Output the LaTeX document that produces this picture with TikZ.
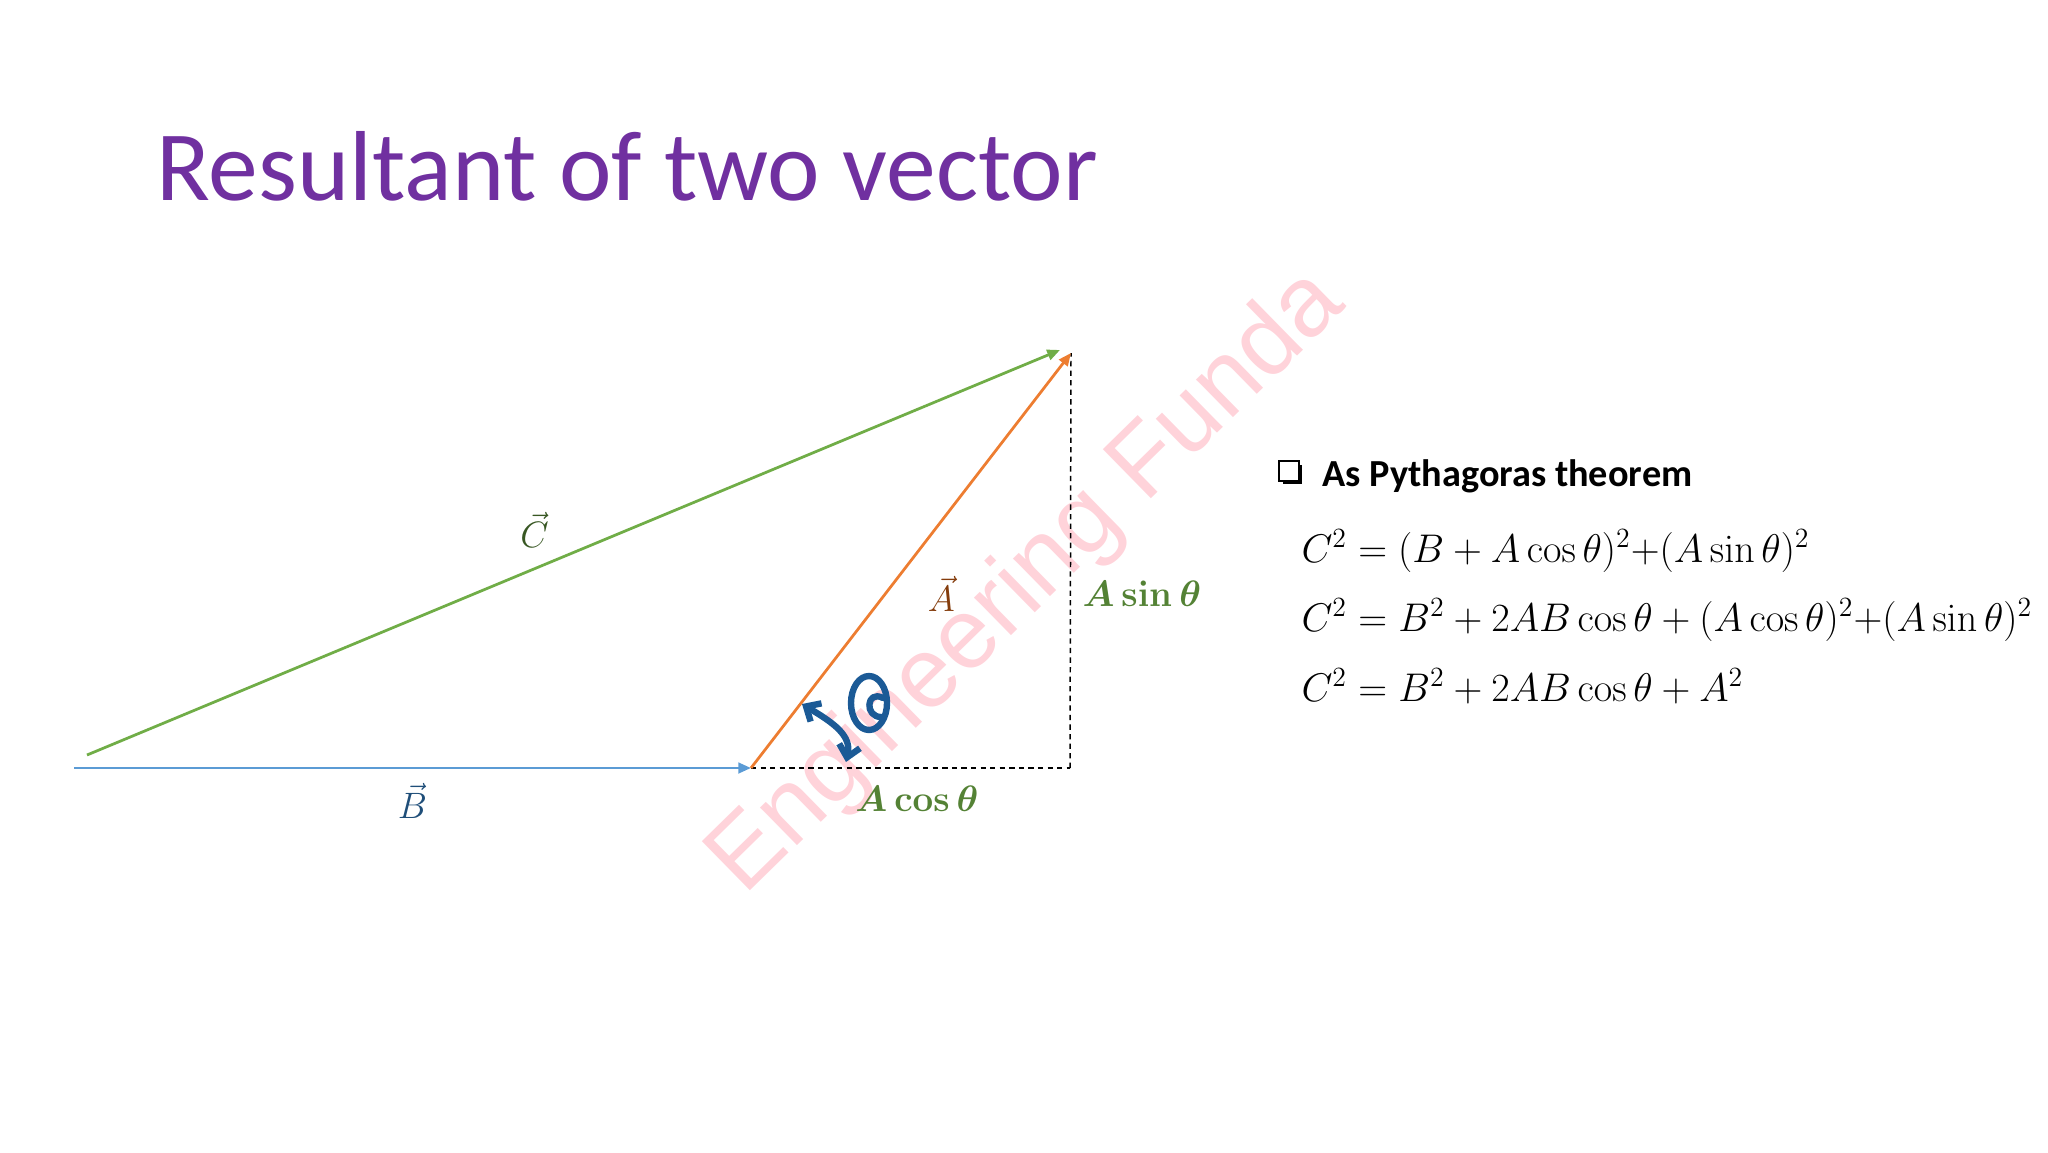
\documentclass[tikz,border=0pt]{standalone}
\usepackage[no-math]{fontspec}
\usepackage{amsmath}
\setmainfont{Carlito}
\newfontfamily\markfont{Liberation Sans}
\usetikzlibrary{arrows.meta,shadows}
\definecolor{titlepurple}{HTML}{7030A0}
\definecolor{vecblue}{HTML}{5B9BD5}
\definecolor{vecgreen}{HTML}{70AD47}
\definecolor{vecorange}{HTML}{ED7D31}
\definecolor{labblue}{HTML}{1F4E79}
\definecolor{labgreen}{HTML}{385723}
\definecolor{labbrown}{HTML}{843C0C}
\definecolor{compgreen}{HTML}{548235}
\definecolor{inkblue}{HTML}{1B5A96}
\definecolor{markpink}{HTML}{FFD3DA}
\newcommand{\eqtext}[1]{\scalebox{1.09}{$#1$}}
\begin{document}
\begin{tikzpicture}[x=0.16536mm, y=-0.16536mm,
	vecline/.style={line width=1.3pt, -{Triangle[length=6pt, width=5pt]}},
	veclabel/.style={font=\fontsize{18}{22}\selectfont},
	compo/.style={text=compgreen, font=\fontsize{18}{22}\selectfont},
	eqline/.style={anchor=base west, font=\fontsize{17.28}{21}\selectfont},
	ink/.style={draw=inkblue, line width=3pt, line cap=round, line join=round}]
	\useasboundingbox (0,0) rectangle (2048,1152);

	% watermark, behind everything
	\node[text=markpink, rotate=44.4, font=\markfont\fontsize{47}{56}\selectfont] (mark) at (1028,583) {Engineering Funda};

	\node[anchor=base west, text=titlepurple, font=\fontsize{46.8}{56}\selectfont] (title) at (149,200) {Resultant of two vector};

	\coordinate (b_start) at (74,768);
	\coordinate (b_end) at (751,768);
	\coordinate (c_start) at (87,755);
	\coordinate (c_end) at (1060,350);
	\coordinate (a_end) at (1071,353);
	\coordinate (foot) at (1070,768);

	\draw[dash pattern=on 2.5pt off 2pt, line width=0.7pt] (b_end) -- node[pos=0.52, below=5pt, compo] (a_cos) {$\boldsymbol{A\cos\theta}$} (foot);
	\draw[dash pattern=on 2.5pt off 2pt, line width=0.7pt] (foot) -- node[pos=0.42, right=2pt, compo] (a_sin) {$\boldsymbol{A\sin\theta}$} (a_end);

	\draw[vecline, draw=vecblue, vecblue] (b_start) -- node[midway, below=3pt, veclabel, text=labblue] (b_label) {$\vec{B}$} (b_end);
	\draw[vecline, draw=vecgreen, vecgreen] (c_start) -- node[pos=0.46, above=6pt, veclabel, text=labgreen] (c_label) {$\vec{C}$} (c_end);
	\draw[vecline, draw=vecorange, vecorange] (b_end) -- node[pos=0.42, right=16pt, veclabel, text=labbrown] (a_label) {$\vec{A}$} (a_end);

	% handwritten angle mark
	\draw[ink] (869,703) ellipse [x radius=18, y radius=27];
	\draw[ink] (883,698) .. controls (866,689) and (864,718) .. (882,717);
	\draw[ink, {Straight Barb[length=5.5pt, width=10pt]}-{Straight Barb[length=5.5pt, width=10pt]}] (802,704) .. controls (832,722) and (852,735) .. (846,762);

	\node[draw, fill=white, line width=0.9pt, minimum size=9pt, inner sep=0pt, drop shadow={shadow xshift=1.6pt, shadow yshift=-1.6pt, fill=black, opacity=1}] (chk) at (1289,471) {};
	\node[anchor=base west, font=\bfseries\fontsize{18}{22}\selectfont] (head) at (1315,486) {As Pythagoras theorem};

	\node[eqline] (eq_one) at (1294,562) {\eqtext{C^2 = (B + A\cos\theta)^2{+}(A\sin\theta)^2}};
	\node[eqline] (eq_two) at (1294,631) {\eqtext{C^2 = B^2 + 2AB\cos\theta + (A\cos\theta)^2{+}(A\sin\theta)^2}};
	\node[eqline] (eq_three) at (1294,701) {\eqtext{C^2 = B^2 + 2AB\cos\theta + A^2}};
\end{tikzpicture}
\end{document}
